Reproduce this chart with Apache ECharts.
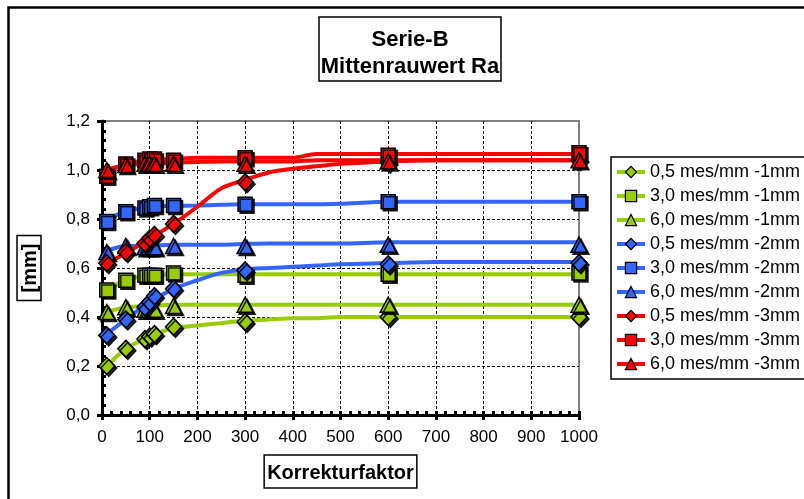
<!DOCTYPE html>
<html>
<head>
<meta charset="utf-8">
<script src="https://cdn.jsdelivr.net/npm/echarts@6/dist/echarts.min.js"></script>
<style>
html, body { margin: 0; padding: 0; background: #fff; }
#chart { width: 804px; height: 499px; }
</style>
</head>
<body>
<div id="chart"></div>
<script>
// Serie-B, Mittenrauwert Ra vs. Korrekturfaktor
var seriesNames = ['0,5 mes/mm -1mm', '3,0 mes/mm -1mm', '6,0 mes/mm -1mm',
                   '0,5 mes/mm -2mm', '3,0 mes/mm -2mm', '6,0 mes/mm -2mm',
                   '0,5 mes/mm -3mm', '3,0 mes/mm -3mm', '6,0 mes/mm -3mm'];

var xTickLabels = ['0', '100', '200', '300', '400', '500', '600', '700', '800', '900', '1000'];
var yTickLabels = ['0,0', '0,2', '0,4', '0,6', '0,8', '1,0', '1,2'];

// measured points (markers)
var markerX = [10, 50, 90, 100, 110, 150, 300, 600, 1000];
var mark_05_1 = [0.20, 0.27, 0.31, 0.32, 0.33, 0.36, 0.38, 0.40, 0.40];
var mark_30_1 = [0.51, 0.55, 0.57, 0.57, 0.57, 0.58, 0.57, 0.575, 0.58];
var mark_60_1 = [0.42, 0.44, 0.43, 0.43, 0.43, 0.445, 0.45, 0.45, 0.45];
var mark_05_2 = [0.325, 0.39, 0.44, 0.46, 0.485, 0.515, 0.59, 0.615, 0.62];
var mark_30_2 = [0.79, 0.83, 0.845, 0.85, 0.855, 0.855, 0.86, 0.87, 0.87];
var mark_60_2 = [0.665, 0.69, 0.685, 0.685, 0.685, 0.69, 0.69, 0.695, 0.695];
var mark_05_3 = [0.62, 0.665, 0.70, 0.72, 0.735, 0.78, 0.95, 1.03, 1.04];
var mark_30_3 = [0.975, 1.025, 1.04, 1.045, 1.045, 1.04, 1.05, 1.06, 1.07];
var mark_60_3 = [1.0, 1.02, 1.025, 1.025, 1.025, 1.025, 1.025, 1.035, 1.04];

// curves drawn under the markers
var curveX = [10, 50, 100, 150, 200, 250, 300, 350, 400, 450, 500, 600, 700, 800, 900, 1000];
var curve_05_1 = [0.20, 0.27, 0.32, 0.355, 0.365, 0.375, 0.385, 0.39, 0.395, 0.395, 0.40, 0.40, 0.40, 0.40, 0.40, 0.40];
var curve_30_1 = [0.51, 0.55, 0.57, 0.575, 0.575, 0.575, 0.575, 0.575, 0.575, 0.575, 0.575, 0.575, 0.575, 0.575, 0.575, 0.575];
var curve_60_1 = [0.42, 0.44, 0.445, 0.45, 0.45, 0.45, 0.45, 0.45, 0.45, 0.45, 0.45, 0.45, 0.45, 0.45, 0.45, 0.45];
var curve_05_2 = [0.33, 0.39, 0.46, 0.515, 0.55, 0.58, 0.595, 0.60, 0.605, 0.61, 0.615, 0.62, 0.625, 0.625, 0.625, 0.625];
var curve_30_2 = [0.80, 0.83, 0.85, 0.853, 0.855, 0.858, 0.86, 0.86, 0.86, 0.86, 0.862, 0.87, 0.87, 0.87, 0.87, 0.87];
var curve_60_2 = [0.67, 0.69, 0.69, 0.695, 0.695, 0.695, 0.698, 0.70, 0.70, 0.70, 0.70, 0.705, 0.705, 0.705, 0.705, 0.705];
var curve_05_3 = [0.62, 0.66, 0.72, 0.78, 0.85, 0.925, 0.96, 0.99, 1.005, 1.015, 1.025, 1.035, 1.04, 1.04, 1.04, 1.04];
var curve_30_3 = [0.985, 1.025, 1.04, 1.045, 1.05, 1.05, 1.05, 1.05, 1.05, 1.065, 1.065, 1.065, 1.065, 1.065, 1.065, 1.065];
var curve_60_3 = [1.0, 1.02, 1.025, 1.03, 1.033, 1.035, 1.035, 1.035, 1.035, 1.04, 1.04, 1.04, 1.04, 1.04, 1.04, 1.04];

var markers = [mark_05_1, mark_30_1, mark_60_1, mark_05_2, mark_30_2, mark_60_2, mark_05_3, mark_30_3, mark_60_3];
var curves = [curve_05_1, curve_30_1, curve_60_1, curve_05_2, curve_30_2, curve_60_2, curve_05_3, curve_30_3, curve_60_3];

var colors = ['#99CC00', '#99CC00', '#99CC00', '#3366FF', '#3366FF', '#3366FF', '#FF0000', '#FF0000', '#FF0000'];
var symbols = ['diamond', 'rect', 'triangle', 'diamond', 'rect', 'triangle', 'diamond', 'rect', 'triangle'];
var symbolSizes = [[16, 17], [14, 14], [16, 15], [16, 17], [14, 14], [16, 15], [16, 17], [14, 14], [16, 15]];

var font = "'Liberation Sans', Arial, sans-serif";

function pairs(xs, ys) {
    return xs.map(function (x, i) { return [x, ys[i]]; });
}

var series = [];
// curves first, so legend picks the line icon
for (var i = 0; i < seriesNames.length; i++) {
    series.push({
        name: seriesNames[i],
        type: 'line',
        data: pairs(curveX, curves[i]),
        smooth: 0.3,
        showSymbol: false,
        symbol: symbols[i],
        lineStyle: { color: colors[i], width: 4 },
        itemStyle: { color: colors[i], borderColor: '#000', borderWidth: 1 },
        z: 2,
        silent: true
    });
}
for (var j = 0; j < seriesNames.length; j++) {
    series.push({
        name: seriesNames[j],
        type: 'scatter',
        data: pairs(markerX, markers[j]),
        symbol: symbols[j],
        symbolSize: symbolSizes[j],
        itemStyle: {
            color: colors[j],
            borderColor: '#000',
            borderWidth: 1.5,
            shadowColor: 'rgba(0,0,0,0.85)',
            shadowBlur: 0,
            shadowOffsetX: 2,
            shadowOffsetY: 2,
            opacity: 1
        },
        z: 3
    });
}

var chart = echarts.init(document.getElementById('chart'));
var option = {
    animation: false,
    backgroundColor: '#fff',
    textStyle: { fontFamily: font },
    graphic: [{
        type: 'rect',
        shape: { x: 8.5, y: 7.5, width: 900, height: 600 },
        style: { fill: 'none', stroke: '#000', lineWidth: 2.5 },
        z: -1,
        silent: true
    }],
    title: {
        text: 'Serie-B\nMittenrauwert Ra',
        left: 408,
        top: 17,
        textAlign: 'center',
        padding: [9, 2, 1, 2],
        borderColor: '#000',
        borderWidth: 1.5,
        textStyle: { fontFamily: font, fontSize: 22, fontWeight: 'bold', color: '#000', lineHeight: 27 }
    },
    legend: {
        orient: 'vertical',
        left: 611,
        top: 157,
        padding: [5, 30, 5, 4],
        itemWidth: 28,
        itemHeight: 14,
        itemGap: 4,
        borderColor: '#000',
        borderWidth: 1.5,
        backgroundColor: '#fff',
        data: seriesNames,
        itemStyle: { borderColor: '#000', borderWidth: 1.2 },
        lineStyle: { width: 4 },
        textStyle: { fontFamily: font, fontSize: 18, color: '#000', lineHeight: 20 }
    },
    grid: {
        left: 102, right: 225, top: 121, bottom: 84,
        show: true,
        borderColor: '#808080',
        borderWidth: 2,
        backgroundColor: 'transparent'
    },
    xAxis: [{
        type: 'value',
        min: 0, max: 1000, interval: 100,
        name: 'Korrekturfaktor',
        nameLocation: 'middle',
        nameGap: 40,
        nameTextStyle: {
            fontFamily: font, fontSize: 20, fontWeight: 'bold', color: '#000',
            lineHeight: 20, borderColor: '#000', borderWidth: 1.5, padding: [8, 3, 5, 3]
        },
        axisLine: { show: true, onZero: false, lineStyle: { color: '#000', width: 3 } },
        axisTick: { show: true, inside: true, length: 4, lineStyle: { color: '#000', width: 3 } },
        minorTick: { show: true, splitNumber: 5, length: 4, lineStyle: { color: '#000', width: 3 } },
        axisLabel: {
            margin: 14, fontFamily: font, fontSize: 17, color: '#000',
            formatter: function (v) { return xTickLabels[Math.round(v / 100)]; }
        },
        splitLine: {
            show: true, showMinLine: false, showMaxLine: false,
            lineStyle: { color: '#000', width: 1, type: [3, 2] }
        }
    }, {
        type: 'value',
        position: 'bottom',
        min: 0, max: 1000, interval: 100,
        axisLine: { show: false },
        axisTick: { show: true, inside: false, length: 5, lineStyle: { color: '#000', width: 3 } },
        axisLabel: { show: false },
        splitLine: { show: false }
    }],
    yAxis: [{
        type: 'value',
        min: 0, max: 1.2, interval: 0.2,
        name: '[mm]',
        nameLocation: 'middle',
        nameRotate: 90,
        nameGap: 61,
        nameTextStyle: {
            fontFamily: font, fontSize: 20, fontWeight: 'bold', color: '#000',
            lineHeight: 20, borderColor: '#000', borderWidth: 1.5, padding: [3, 8, 1, 8]
        },
        axisLine: { show: true, onZero: false, lineStyle: { color: '#000', width: 3 } },
        axisTick: { show: true, inside: true, length: 4, lineStyle: { color: '#000', width: 3 } },
        minorTick: { show: true, splitNumber: 5, length: 4, lineStyle: { color: '#000', width: 3 } },
        axisLabel: {
            margin: 12, fontFamily: font, fontSize: 17, color: '#000',
            formatter: function (v) { return yTickLabels[Math.round(v / 0.2)]; }
        },
        splitLine: {
            show: true, showMinLine: false, showMaxLine: false,
            lineStyle: { color: '#000', width: 1, type: [3, 2] }
        }
    }, {
        type: 'value',
        position: 'left',
        min: 0, max: 1.2, interval: 0.2,
        axisLine: { show: false },
        axisTick: { show: true, inside: false, length: 5, lineStyle: { color: '#000', width: 3 } },
        axisLabel: { show: false },
        splitLine: { show: false }
    }],
    series: series
};
chart.setOption(option);
</script>
</body>
</html>
